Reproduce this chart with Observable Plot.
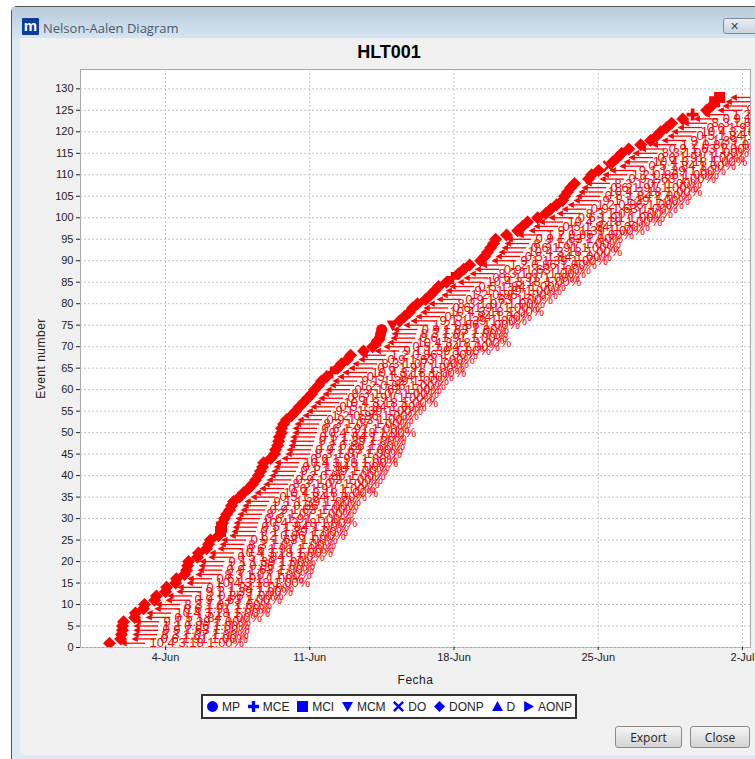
<!DOCTYPE html>
<html><head><meta charset="utf-8">
<script src="https://cdn.jsdelivr.net/npm/d3@7"></script>
<script src="https://cdn.jsdelivr.net/npm/@observablehq/plot@0.6"></script>
<style>
html,body{margin:0;padding:0;background:#fff;width:755px;height:759px;overflow:hidden;font-family:"Liberation Sans",Arial,sans-serif}
#win{position:absolute;left:11px;top:6px;width:750px;height:760px;background:#dce8f4;border:1px solid #555;border-top-left-radius:6px;box-sizing:border-box}
#bar{position:absolute;left:0;top:0;right:0;height:32px;background:linear-gradient(#b8cbdc,#d6e5f3)}
#logo{position:absolute;left:22px;top:18px;width:17px;height:17px;background:#0b3d9c;color:#fff;font:bold 15px/15px "Liberation Sans";text-align:center;border-radius:1px}
#ttl{position:absolute;left:43px;top:19px;font:13px "Open Sans","Liberation Sans";color:#4d5a68}
#xbtn{position:absolute;left:723px;top:18px;width:40px;height:16px;border:1px solid #7f8b99;border-radius:3px;background:linear-gradient(#e9eef3,#c9d3dd);font:11px/15px "Liberation Sans";color:#445;padding-left:6px;box-sizing:border-box}
#body{position:absolute;left:20px;top:38px;width:735px;height:717px;background:#f0f0f0}
#plot{position:absolute;left:0;top:0}
#head{position:absolute;left:0;width:778px;top:42px;text-align:center;font:bold 18px "Liberation Sans";color:#000}
#legend{position:absolute;left:201px;top:694px;width:376px;height:25px;border:2px solid #333;box-sizing:border-box;background:#fff;display:flex;align-items:center;justify-content:space-between;padding:0 3px 0 3px;font:12px "Liberation Sans";color:#222}
#legend span{display:flex;align-items:center;gap:3px}
.btn{position:absolute;top:726px;height:22px;border:1px solid #8a8a8a;border-radius:3px;background:linear-gradient(#f4f4f4,#d4d4d4);font:12px/21px "Open Sans","Liberation Sans";text-align:center;color:#222;box-sizing:border-box}
</style></head><body>
<div id="win"><div id="bar"></div></div>
<div id="logo">m</div><div id="ttl">Nelson-Aalen Diagram</div><div id="xbtn">✕</div>
<div id="body"></div>
<div id="plot"></div>
<div id="head">HLT001</div>
<div id="legend"></div>
<div class="btn" style="left:615px;width:67px">Export</div>
<div class="btn" style="left:690px;width:60px">Close</div>
<script>
const eventDays=[1.28,1.82,1.86,1.91,1.91,1.96,2.50,2.54,2.93,2.98,3.47,3.56,4.00,4.05,4.49,4.53,4.92,5.02,5.07,5.12,5.55,5.60,5.99,6.09,6.18,6.57,6.67,6.72,6.77,6.86,6.96,7.11,7.20,7.30,7.59,7.79,8.03,8.22,8.37,8.51,8.61,8.71,8.76,9.10,9.29,9.34,9.44,9.49,9.53,9.63,9.63,9.73,9.87,10.12,10.31,10.50,10.70,10.89,11.09,11.23,11.43,11.57,11.82,12.06,12.35,12.54,12.83,12.98,13.61,14.05,14.24,14.39,14.44,14.49,15.02,15.36,15.60,15.84,15.99,16.23,16.62,16.86,17.06,17.25,17.64,17.93,18.22,18.47,18.76,19.29,19.49,19.63,19.78,19.92,20.02,20.55,21.09,21.33,21.57,22.06,22.45,22.69,22.98,23.27,23.37,23.51,23.66,23.85,24.53,24.68,25.02,25.50,25.70,25.94,26.14,26.48,27.06,27.54,27.83,28.03,28.32,28.56,29.10,29.58,30.26,30.50,30.65,30.89];
const specialEvents=[27,28,64,71,72,73,74,75,86,112,124,127,128];
const specialTypes=["MCI","MCI","MCE","MP","MP","MP","MP","MCM","MCE","DO","MCE","MCI","MCI"];
const rowLabels=["10.4 3.18 1.00%","0 6 1.91 1.00%","8 3 1.07 1.00%","0 9 1.63 1.00%","1 2 0.86 1.00%","9 1 1.39 1.00%","0 5 1.84 1.00%"];
const yTicks=[0,5,10,15,20,25,30,35,40,45,50,55,60,65,70,75,80,85,90,95,100,105,110,115,120,125,130];
const xTickDays=[4,11,18,25,32];
const xTickNames=["4-Jun","11-Jun","18-Jun","25-Jun","2-Jul"];
const legendNames=["MP","MCE","MCI","MCM","DO","DONP","D","AONP"];

const day=d=>new Date(Date.UTC(2013,5,1)+(d-1)*864e5);
const poly=p=>({draw(c,s){const r=Math.sqrt(s/Math.PI);p.forEach(([x,y],i)=>i?c.lineTo(x*r,y*r):c.moveTo(x*r,y*r));c.closePath();}});
const sym={
 MP:{draw(c,s){const r=Math.sqrt(s/Math.PI);c.moveTo(r,0);c.arc(0,0,r,0,2*Math.PI);}},
 MCE:poly([[-.3,-1],[.3,-1],[.3,-.3],[1,-.3],[1,.3],[.3,.3],[.3,1],[-.3,1],[-.3,.3],[-1,.3],[-1,-.3],[-.3,-.3]]),
 MCI:poly([[-1,-1],[1,-1],[1,1],[-1,1]]),
 MCM:poly([[-1,-.8],[1,-.8],[0,1]]),
 DO:poly([[-1,-.7],[-.7,-1],[0,-.3],[.7,-1],[1,-.7],[.3,0],[1,.7],[.7,1],[0,.3],[-.7,1],[-1,.7],[-.3,0]]),
 DONP:poly([[0,-1],[1,0],[0,1],[-1,0]]),
 D:poly([[0,-1],[1,.8],[-1,.8]]),
 AONP:poly([[-.8,-1],[1,0],[-.8,1]])
};
const arrowLeft=poly([[1,-1],[-1,0],[1,1]]);
const rows=eventDays.map((d,i)=>{
 const k=specialEvents.indexOf(i+1);
 return {n:i+1,date:day(d),end:day(d+1.07),type:k>=0?specialTypes[k]:"DONP",label:rowLabels[i%rowLabels.length]};
});
const markR={MP:5.5,MCE:6,MCI:5.5,MCM:6,DO:6,DONP:6.5};
const typeMarks=Object.keys(markR).map(t=>Plot.dot(rows.filter(r=>r.type===t),{x:"date",y:"n",r:markR[t],symbol:sym[t],fill:"#f00",stroke:"none",clip:"frame"}));
const gridStyle={stroke:"#c4c4c4",strokeOpacity:1,strokeDasharray:"2,2"};
const chart=Plot.plot({
 width:755,height:759,marginLeft:80,marginRight:5,marginTop:69,marginBottom:112,
 style:{background:"transparent",fontFamily:"'Liberation Sans',Arial,sans-serif"},
 x:{type:"utc",domain:[day(-0.126),day(32.39)]},
 y:{domain:[0,134.5]},
 marks:[
  Plot.frame({fill:"#fff",stroke:"#a8a8a8"}),
  Plot.gridY(yTicks,gridStyle),
  Plot.gridX(xTickDays.map(day),gridStyle),
  Plot.text(rows,{x:"date",y:"n",text:"label",dx:40,textAnchor:"start",fill:"#f00",fontSize:13,fontFamily:"'Liberation Sans Narrow','Liberation Sans',sans-serif",clip:"frame"}),
  Plot.ruleY(rows,{y:"n",x1:"date",x2:"end",dx:14,stroke:"#f00",strokeWidth:1.3,clip:"frame"}),
  Plot.dot(rows,{x:"date",y:"n",dx:14,r:3.2,symbol:arrowLeft,fill:"#f00",stroke:"none",clip:"frame"}),
  ...typeMarks,
  Plot.axisY({ticks:yTicks,tickSize:4,tickPadding:3,fontSize:11,label:"Event number",labelAnchor:"center",labelArrow:"none",labelOffset:44,color:"#222"}),
  Plot.axisX({ticks:xTickDays.map(day),tickFormat:d=>xTickNames[xTickDays.findIndex(t=>+day(t)===+d)],tickSize:3,tickPadding:3,fontSize:11,label:"Fecha",labelAnchor:"center",labelArrow:"none",labelOffset:36,color:"#222"})
 ]
});
document.getElementById("plot").append(chart);
chart.querySelectorAll('[aria-label="y-axis label"] text,[aria-label="x-axis label"] text').forEach(t=>{t.style.fontSize="12px";t.style.letterSpacing=".5px";});
const lg=document.getElementById("legend");
legendNames.forEach(n=>{
 const s=document.createElement("span");
 const path=d3.symbol().type(sym[n]).size(Math.PI*30)();
 s.innerHTML=`<svg width="13" height="13" viewBox="-6.5 -6.5 13 13"><path d="${path}" fill="#00f"/></svg>${n}`;
 lg.append(s);
});
</script>
</body></html>
